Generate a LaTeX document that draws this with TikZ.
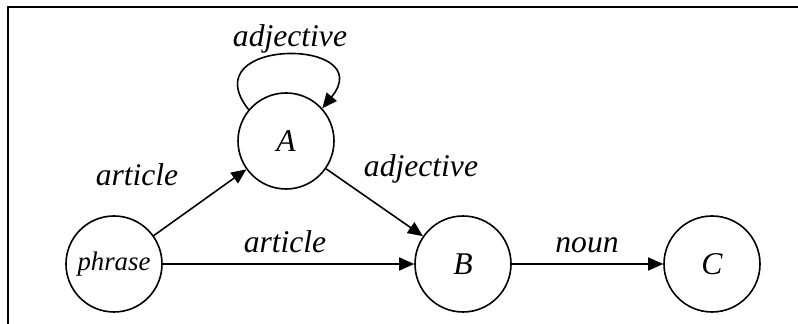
\documentclass[tikz,border=0pt]{standalone}
\usepackage{fontspec}
\setmainfont{Liberation Serif}
\usetikzlibrary{arrows.meta}
\begin{document}
\begin{tikzpicture}[x=0.5pt,y=0.5pt,
  state/.style={circle,draw,line width=0.8pt,minimum size=48pt,inner sep=0pt,
    font=\fontsize{15.8}{19}\selectfont\itshape},
  small state/.style={state,font=\fontsize{13.4}{16}\selectfont\itshape},
  trans/.style={line width=0.8pt,-{Triangle[length=7.5pt,width=6.5pt]}},
  lbl/.style={anchor=base,inner sep=0pt,font=\fontsize{15.8}{19}\selectfont\itshape},
  frame/.style={line width=1.3pt}]
\useasboundingbox (0,0) rectangle (798,324);
% open frame: top and left edges
\coordinate (fr) at (798,317);
\coordinate (ftl) at (8,317);
\coordinate (fb) at (8,0);
\draw[frame] (fr) -- (ftl) -- (fb);
% states
\node[small state] (phrase) at (114,60) {phrase};
\node[state] (A) at (286,183) {A};
\node[state] (B) at (463,60) {B};
\node[state] (C) at (712,60) {C};
% transitions
\draw[trans] (phrase) -- (A);
\draw[trans] (A) -- (B);
\draw[trans] (phrase) -- (B);
\draw[trans] (B) -- (C);
\draw[trans] (A.140) .. controls +(-58,73) and +(58,71) .. (A.42);
% labels
\node[lbl] (l1) at (290,277) {adjective};
\node[lbl] (l2) at (137,138) {article};
\node[lbl] (l3) at (421,147) {adjective};
\node[lbl] (l4) at (285,71) {article};
\node[lbl] (l5) at (587,71) {noun};
\end{tikzpicture}
\end{document}
